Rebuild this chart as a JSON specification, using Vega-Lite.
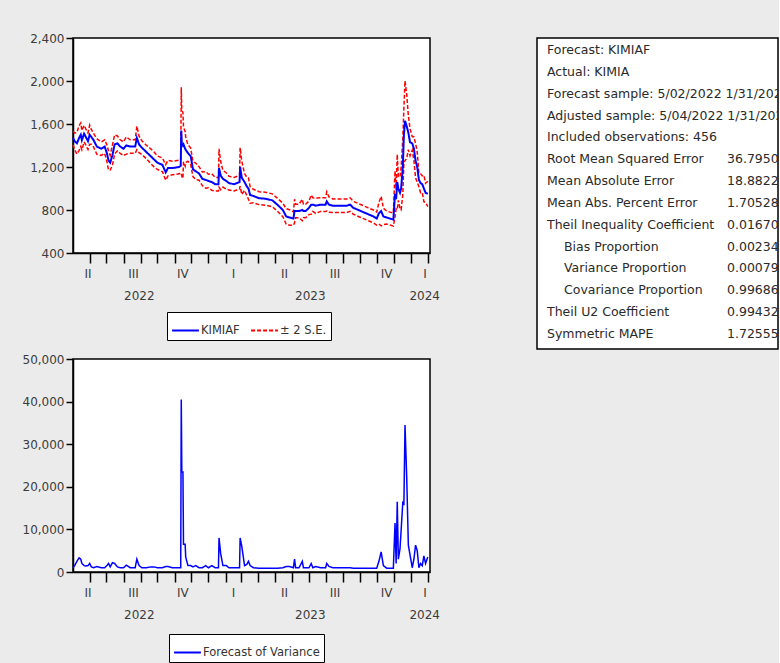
{
  "$schema": "https://vega.github.io/schema/vega-lite/v6.json",
  "background": "#ebebeb",
  "padding": {"left": 21, "top": 31, "right": 0, "bottom": 0},
  "config": {
    "font": "DejaVu Sans",
    "view": {"stroke": "#000", "strokeWidth": 1.5, "fill": "#fff"},
    "axis": {"labelFont": "DejaVu Sans", "labelFontSize": 12, "labelColor": "#3c3c3c", "domainColor": "#000", "domainWidth": 1.5, "tickColor": "#000", "tickWidth": 1.5, "grid": false, "title": null},
    "legend": {"labelFont": "DejaVu Sans", "labelFontSize": 11.5, "labelColor": "#333"}
  },
  "datasets": {
    "fc": [
      {"d":"2022-05-02","f":1470,"up":1533,"lo":1407,"v":1000},
      {"d":"2022-05-05","f":1440,"up":1517,"lo":1363,"v":1500},
      {"d":"2022-05-09","f":1420,"up":1520,"lo":1320,"v":2500},
      {"d":"2022-05-13","f":1470,"up":1585,"lo":1355,"v":3300},
      {"d":"2022-05-16","f":1500,"up":1610,"lo":1390,"v":3000},
      {"d":"2022-05-18","f":1450,"up":1539,"lo":1361,"v":2000},
      {"d":"2022-05-22","f":1510,"up":1587,"lo":1433,"v":1500},
      {"d":"2022-05-25","f":1480,"up":1555,"lo":1405,"v":1400},
      {"d":"2022-05-29","f":1440,"up":1517,"lo":1363,"v":1500},
      {"d":"2022-06-01","f":1500,"up":1589,"lo":1411,"v":2000},
      {"d":"2022-06-04","f":1480,"up":1549,"lo":1411,"v":1200},
      {"d":"2022-06-08","f":1450,"up":1513,"lo":1387,"v":1000},
      {"d":"2022-06-14","f":1390,"up":1462,"lo":1318,"v":1300},
      {"d":"2022-06-22","f":1370,"up":1433,"lo":1307,"v":1000},
      {"d":"2022-06-28","f":1390,"up":1453,"lo":1327,"v":1000},
      {"d":"2022-07-02","f":1330,"up":1407,"lo":1253,"v":1500},
      {"d":"2022-07-05","f":1260,"up":1349,"lo":1171,"v":2000},
      {"d":"2022-07-08","f":1240,"up":1309,"lo":1171,"v":1200},
      {"d":"2022-07-12","f":1310,"up":1404,"lo":1216,"v":2200},
      {"d":"2022-07-16","f":1410,"up":1499,"lo":1321,"v":2000},
      {"d":"2022-07-21","f":1420,"up":1489,"lo":1351,"v":1200},
      {"d":"2022-07-26","f":1390,"up":1453,"lo":1327,"v":1000},
      {"d":"2022-08-01","f":1370,"up":1433,"lo":1307,"v":1000},
      {"d":"2022-08-06","f":1400,"up":1480,"lo":1320,"v":1600},
      {"d":"2022-08-13","f":1390,"up":1453,"lo":1327,"v":1000},
      {"d":"2022-08-22","f":1390,"up":1453,"lo":1327,"v":1000},
      {"d":"2022-08-25","f":1470,"up":1580,"lo":1360,"v":3000},
      {"d":"2022-08-29","f":1410,"up":1487,"lo":1333,"v":1500},
      {"d":"2022-09-03","f":1380,"up":1443,"lo":1317,"v":1000},
      {"d":"2022-09-11","f":1340,"up":1403,"lo":1277,"v":1000},
      {"d":"2022-09-19","f":1300,"up":1369,"lo":1231,"v":1200},
      {"d":"2022-09-25","f":1270,"up":1339,"lo":1201,"v":1200},
      {"d":"2022-10-01","f":1240,"up":1303,"lo":1177,"v":1000},
      {"d":"2022-10-10","f":1220,"up":1283,"lo":1157,"v":1000},
      {"d":"2022-10-16","f":1150,"up":1222,"lo":1078,"v":1300},
      {"d":"2022-10-20","f":1190,"up":1262,"lo":1118,"v":1300},
      {"d":"2022-10-28","f":1190,"up":1253,"lo":1127,"v":1000},
      {"d":"2022-11-09","f":1200,"up":1263,"lo":1137,"v":1000},
      {"d":"2022-11-12","f":1210,"up":1273,"lo":1147,"v":1000},
      {"d":"2022-11-13","f":1540,"up":1942,"lo":1138,"v":40500},
      {"d":"2022-11-14","f":1420,"up":1727,"lo":1113,"v":23500},
      {"d":"2022-11-16","f":1400,"up":1707,"lo":1093,"v":23500},
      {"d":"2022-11-17","f":1410,"up":1571,"lo":1249,"v":6500},
      {"d":"2022-11-20","f":1370,"up":1531,"lo":1209,"v":6500},
      {"d":"2022-11-21","f":1360,"up":1478,"lo":1242,"v":3500},
      {"d":"2022-11-25","f":1330,"up":1407,"lo":1253,"v":1500},
      {"d":"2022-11-30","f":1300,"up":1377,"lo":1223,"v":1500},
      {"d":"2022-12-04","f":1180,"up":1249,"lo":1111,"v":1200},
      {"d":"2022-12-09","f":1160,"up":1237,"lo":1083,"v":1500},
      {"d":"2022-12-15","f":1140,"up":1203,"lo":1077,"v":1000},
      {"d":"2022-12-21","f":1090,"up":1153,"lo":1027,"v":1000},
      {"d":"2022-12-27","f":1080,"up":1157,"lo":1003,"v":1500},
      {"d":"2023-01-01","f":1070,"up":1133,"lo":1007,"v":1000},
      {"d":"2023-01-07","f":1060,"up":1137,"lo":983,"v":1500},
      {"d":"2023-01-13","f":1040,"up":1103,"lo":977,"v":1000},
      {"d":"2023-01-19","f":1040,"up":1103,"lo":977,"v":1000},
      {"d":"2023-01-20","f":1190,"up":1369,"lo":1011,"v":8000},
      {"d":"2023-01-23","f":1120,"up":1251,"lo":989,"v":4300},
      {"d":"2023-01-27","f":1090,"up":1167,"lo":1013,"v":1500},
      {"d":"2023-02-02","f":1070,"up":1147,"lo":993,"v":1500},
      {"d":"2023-02-07","f":1050,"up":1113,"lo":987,"v":1000},
      {"d":"2023-02-16","f":1040,"up":1103,"lo":977,"v":1000},
      {"d":"2023-02-26","f":1060,"up":1123,"lo":997,"v":1000},
      {"d":"2023-02-27","f":1200,"up":1379,"lo":1021,"v":8000},
      {"d":"2023-03-02","f":1100,"up":1255,"lo":945,"v":6000},
      {"d":"2023-03-07","f":1060,"up":1137,"lo":983,"v":1500},
      {"d":"2023-03-11","f":1020,"up":1105,"lo":935,"v":1800},
      {"d":"2023-03-14","f":1000,"up":1100,"lo":900,"v":2500},
      {"d":"2023-03-17","f":940,"up":1017,"lo":863,"v":1500},
      {"d":"2023-03-23","f":930,"up":993,"lo":867,"v":1000},
      {"d":"2023-04-02","f":910,"up":970,"lo":850,"v":900},
      {"d":"2023-04-14","f":905,"up":965,"lo":845,"v":900},
      {"d":"2023-04-26","f":890,"up":950,"lo":830,"v":900},
      {"d":"2023-05-05","f":850,"up":910,"lo":790,"v":900},
      {"d":"2023-05-15","f":800,"up":863,"lo":737,"v":1000},
      {"d":"2023-05-21","f":740,"up":812,"lo":668,"v":1300},
      {"d":"2023-05-27","f":730,"up":802,"lo":658,"v":1300},
      {"d":"2023-06-03","f":720,"up":783,"lo":657,"v":1000},
      {"d":"2023-06-05","f":790,"up":900,"lo":680,"v":3000},
      {"d":"2023-06-07","f":790,"up":853,"lo":727,"v":1000},
      {"d":"2023-06-13","f":790,"up":853,"lo":727,"v":1000},
      {"d":"2023-06-19","f":800,"up":900,"lo":700,"v":2500},
      {"d":"2023-06-21","f":790,"up":853,"lo":727,"v":1000},
      {"d":"2023-06-25","f":790,"up":853,"lo":727,"v":1000},
      {"d":"2023-07-01","f":820,"up":883,"lo":757,"v":1000},
      {"d":"2023-07-05","f":850,"up":939,"lo":761,"v":2000},
      {"d":"2023-07-08","f":850,"up":913,"lo":787,"v":1000},
      {"d":"2023-07-13","f":840,"up":912,"lo":768,"v":1300},
      {"d":"2023-07-22","f":850,"up":913,"lo":787,"v":1000},
      {"d":"2023-07-31","f":850,"up":913,"lo":787,"v":1000},
      {"d":"2023-08-02","f":880,"up":969,"lo":791,"v":2000},
      {"d":"2023-08-06","f":850,"up":922,"lo":778,"v":1300},
      {"d":"2023-08-13","f":840,"up":903,"lo":777,"v":1000},
      {"d":"2023-08-26","f":840,"up":903,"lo":777,"v":1000},
      {"d":"2023-09-07","f":840,"up":903,"lo":777,"v":1000},
      {"d":"2023-09-13","f":850,"up":913,"lo":787,"v":1000},
      {"d":"2023-09-19","f":820,"up":880,"lo":760,"v":900},
      {"d":"2023-09-28","f":800,"up":860,"lo":740,"v":900},
      {"d":"2023-10-07","f":780,"up":840,"lo":720,"v":900},
      {"d":"2023-10-16","f":760,"up":820,"lo":700,"v":900},
      {"d":"2023-10-25","f":740,"up":800,"lo":680,"v":900},
      {"d":"2023-10-31","f":720,"up":780,"lo":660,"v":900},
      {"d":"2023-11-04","f":770,"up":870,"lo":670,"v":2500},
      {"d":"2023-11-08","f":790,"up":927,"lo":653,"v":4700},
      {"d":"2023-11-12","f":740,"up":817,"lo":663,"v":1500},
      {"d":"2023-11-18","f":730,"up":790,"lo":670,"v":900},
      {"d":"2023-11-24","f":720,"up":780,"lo":660,"v":900},
      {"d":"2023-11-30","f":710,"up":770,"lo":650,"v":900},
      {"d":"2023-12-03","f":950,"up":1164,"lo":736,"v":11500},
      {"d":"2023-12-05","f":900,"up":989,"lo":811,"v":2000},
      {"d":"2023-12-07","f":1060,"up":1317,"lo":803,"v":16500},
      {"d":"2023-12-09","f":1000,"up":1110,"lo":890,"v":3000},
      {"d":"2023-12-12","f":960,"up":1108,"lo":812,"v":5500},
      {"d":"2023-12-14","f":1000,"up":1198,"lo":802,"v":9800},
      {"d":"2023-12-17","f":1200,"up":1455,"lo":945,"v":16300},
      {"d":"2023-12-19","f":1500,"up":1753,"lo":1247,"v":16000},
      {"d":"2023-12-21","f":1630,"up":2001,"lo":1259,"v":34500},
      {"d":"2023-12-24","f":1580,"up":1880,"lo":1280,"v":22500},
      {"d":"2023-12-27","f":1520,"up":1679,"lo":1361,"v":6300},
      {"d":"2023-12-30","f":1430,"up":1556,"lo":1304,"v":4000},
      {"d":"2024-01-03","f":1420,"up":1483,"lo":1357,"v":1000},
      {"d":"2024-01-06","f":1370,"up":1480,"lo":1260,"v":3000},
      {"d":"2024-01-09","f":1260,"up":1419,"lo":1101,"v":6300},
      {"d":"2024-01-12","f":1200,"up":1341,"lo":1059,"v":5000},
      {"d":"2024-01-15","f":1080,"up":1143,"lo":1017,"v":1000},
      {"d":"2024-01-18","f":1050,"up":1139,"lo":961,"v":2000},
      {"d":"2024-01-21","f":1040,"up":1117,"lo":963,"v":1500},
      {"d":"2024-01-24","f":1000,"up":1123,"lo":877,"v":3800},
      {"d":"2024-01-27","f":960,"up":1049,"lo":871,"v":2000},
      {"d":"2024-01-31","f":950,"up":1068,"lo":832,"v":3500}
    ],
    "stats": [
      {"i":0,"label":"Forecast: KIMIAF","sub":"","value":""},
      {"i":1,"label":"Actual: KIMIA","sub":"","value":""},
      {"i":2,"label":"Forecast sample: 5/02/2022 1/31/2024","sub":"","value":""},
      {"i":3,"label":"Adjusted sample: 5/04/2022 1/31/2024","sub":"","value":""},
      {"i":4,"label":"Included observations: 456","sub":"","value":""},
      {"i":5,"label":"Root Mean Squared Error","sub":"","value":"36.79503"},
      {"i":6,"label":"Mean Absolute Error","sub":"","value":"18.88221"},
      {"i":7,"label":"Mean Abs. Percent Error","sub":"","value":"1.705286"},
      {"i":8,"label":"Theil Inequality Coefficient","sub":"","value":"0.016703"},
      {"i":9,"label":"","sub":"Bias Proportion","value":"0.002341"},
      {"i":10,"label":"","sub":"Variance Proportion","value":"0.000795"},
      {"i":11,"label":"","sub":"Covariance Proportion","value":"0.996864"},
      {"i":12,"label":"Theil U2 Coefficient","sub":"","value":"0.994321"},
      {"i":13,"label":"Symmetric MAPE","sub":"","value":"1.725558"}
    ]
  },
  "spacing": 95,
  "hconcat": [
    {
      "spacing": 10,
      "resolve": {"scale": {"color": "independent", "strokeDash": "independent"}, "legend": {"color": "independent", "strokeDash": "independent"}},
      "vconcat": [
        {
          "width": 357,
          "height": 215,
          "data": {"name": "fc"},
          "encoding": {
            "x": {"field": "d", "type": "temporal",
              "scale": {"type": "utc", "domain": [{"year":2022,"month":5,"date":2,"utc":true},{"year":2024,"month":2,"date":4,"utc":true}]},
              "axis": {
                "values": [
                  {"year":2022,"month":6,"date":1,"utc":true},{"year":2022,"month":7,"date":1,"utc":true},{"year":2022,"month":8,"date":1,"utc":true},{"year":2022,"month":9,"date":1,"utc":true},{"year":2022,"month":10,"date":1,"utc":true},{"year":2022,"month":11,"date":1,"utc":true},{"year":2022,"month":12,"date":1,"utc":true},
                  {"year":2023,"month":1,"date":1,"utc":true},{"year":2023,"month":2,"date":1,"utc":true},{"year":2023,"month":3,"date":1,"utc":true},{"year":2023,"month":4,"date":1,"utc":true},{"year":2023,"month":5,"date":1,"utc":true},{"year":2023,"month":6,"date":1,"utc":true},{"year":2023,"month":7,"date":1,"utc":true},{"year":2023,"month":8,"date":1,"utc":true},{"year":2023,"month":9,"date":1,"utc":true},{"year":2023,"month":10,"date":1,"utc":true},{"year":2023,"month":11,"date":1,"utc":true},{"year":2023,"month":12,"date":1,"utc":true},
                  {"year":2024,"month":1,"date":1,"utc":true},{"year":2024,"month":2,"date":1,"utc":true},
                  {"year":2022,"month":5,"date":28,"utc":true},{"year":2022,"month":8,"date":18,"utc":true},{"year":2022,"month":11,"date":15,"utc":true},{"year":2023,"month":2,"date":14,"utc":true},{"year":2023,"month":5,"date":17,"utc":true},{"year":2023,"month":8,"date":16,"utc":true},{"year":2023,"month":11,"date":17,"utc":true},{"year":2024,"month":1,"date":25,"utc":true},
                  {"year":2022,"month":8,"date":28,"hours":12,"utc":true},{"year":2023,"month":7,"date":2,"hours":12,"utc":true},{"year":2024,"month":1,"date":24,"hours":12,"utc":true}
                ],
                "labelExpr": "utchours(datum.value) == 12 ? ['', '' + utcyear(datum.value)] : (utcdate(datum.value) == 1 ? '' : ['I','I','I','II','II','II','III','III','III','IV','IV','IV'][utcmonth(datum.value)])",
                "tickSize": 10, "labelPadding": 5, "labelOverlap": false, "labelFlush": false, "labelLineHeight": 22, "labelBaseline": "top",
                "tickOpacity": {"condition": {"test": "utcdate(datum.value) == 1 && utchours(datum.value) == 0", "value": 1}, "value": 0}
              }
            },
            "y": {"field": "val", "type": "quantitative",
              "scale": {"domain": [400, 2400], "nice": false, "zero": false},
              "axis": {"values": [400, 800, 1200, 1600, 2000, 2400], "format": ",.0f", "tickSize": 7, "labelPadding": 2}
            },
            "color": {"field": "s", "type": "nominal",
              "scale": {"domain": ["f", "up", "lo"], "range": ["#0000ff", "#ff0000", "#ff0000"]},
              "legend": {"title": null, "values": ["f", "up"], "labelExpr": "datum.value == 'f' ? 'KIMIAF' : '± 2 S.E.'", "orient": "none", "legendX": 94, "legendY": 274, "direction": "horizontal", "symbolType": "stroke", "symbolSize": 720, "symbolStrokeWidth": 2, "padding": 4, "strokeColor": "#000", "fillColor": "#fff", "columnPadding": 7, "labelOffset": 1}
            },
            "strokeDash": {"field": "s", "type": "nominal",
              "scale": {"domain": ["f", "up", "lo"], "range": [[1, 0], [4, 2], [4, 2]]},
              "legend": {"title": null, "values": ["f", "up"], "labelExpr": "datum.value == 'f' ? 'KIMIAF' : '± 2 S.E.'", "orient": "none", "legendX": 94, "legendY": 274, "direction": "horizontal", "symbolType": "stroke", "symbolSize": 720, "symbolStrokeWidth": 2, "padding": 4, "strokeColor": "#000", "fillColor": "#fff", "columnPadding": 7, "labelOffset": 1}
            }
          },
          "layer": [
            {"transform": [{"fold": ["up", "lo"], "as": ["s", "val"]}], "mark": {"type": "line", "strokeWidth": 1.5}},
            {"transform": [{"fold": ["f"], "as": ["s", "val"]}], "mark": {"type": "line", "strokeWidth": 2}}
          ]
        },
        {
          "width": 357,
          "height": 213,
          "data": {"name": "fc"},
          "mark": {"type": "line", "strokeWidth": 1.5},
          "encoding": {
            "x": {"field": "d", "type": "temporal",
              "scale": {"type": "utc", "domain": [{"year":2022,"month":5,"date":2,"utc":true},{"year":2024,"month":2,"date":4,"utc":true}]},
              "axis": {
                "values": [
                  {"year":2022,"month":6,"date":1,"utc":true},{"year":2022,"month":7,"date":1,"utc":true},{"year":2022,"month":8,"date":1,"utc":true},{"year":2022,"month":9,"date":1,"utc":true},{"year":2022,"month":10,"date":1,"utc":true},{"year":2022,"month":11,"date":1,"utc":true},{"year":2022,"month":12,"date":1,"utc":true},
                  {"year":2023,"month":1,"date":1,"utc":true},{"year":2023,"month":2,"date":1,"utc":true},{"year":2023,"month":3,"date":1,"utc":true},{"year":2023,"month":4,"date":1,"utc":true},{"year":2023,"month":5,"date":1,"utc":true},{"year":2023,"month":6,"date":1,"utc":true},{"year":2023,"month":7,"date":1,"utc":true},{"year":2023,"month":8,"date":1,"utc":true},{"year":2023,"month":9,"date":1,"utc":true},{"year":2023,"month":10,"date":1,"utc":true},{"year":2023,"month":11,"date":1,"utc":true},{"year":2023,"month":12,"date":1,"utc":true},
                  {"year":2024,"month":1,"date":1,"utc":true},{"year":2024,"month":2,"date":1,"utc":true},
                  {"year":2022,"month":5,"date":28,"utc":true},{"year":2022,"month":8,"date":18,"utc":true},{"year":2022,"month":11,"date":15,"utc":true},{"year":2023,"month":2,"date":14,"utc":true},{"year":2023,"month":5,"date":17,"utc":true},{"year":2023,"month":8,"date":16,"utc":true},{"year":2023,"month":11,"date":17,"utc":true},{"year":2024,"month":1,"date":25,"utc":true},
                  {"year":2022,"month":8,"date":28,"hours":12,"utc":true},{"year":2023,"month":7,"date":2,"hours":12,"utc":true},{"year":2024,"month":1,"date":24,"hours":12,"utc":true}
                ],
                "labelExpr": "utchours(datum.value) == 12 ? ['', '' + utcyear(datum.value)] : (utcdate(datum.value) == 1 ? '' : ['I','I','I','II','II','II','III','III','III','IV','IV','IV'][utcmonth(datum.value)])",
                "tickSize": 10, "labelPadding": 5, "labelOverlap": false, "labelFlush": false, "labelLineHeight": 22, "labelBaseline": "top",
                "tickOpacity": {"condition": {"test": "utcdate(datum.value) == 1 && utchours(datum.value) == 0", "value": 1}, "value": 0}
              }
            },
            "y": {"field": "v", "type": "quantitative",
              "scale": {"domain": [0, 50000], "nice": false},
              "axis": {"values": [0, 10000, 20000, 30000, 40000, 50000], "format": ",.0f", "tickSize": 7, "labelPadding": 2}
            },
            "color": {"datum": "Forecast of Variance", "type": "nominal",
              "scale": {"range": ["#0000ff"]},
              "legend": {"title": null, "orient": "none", "legendX": 96, "legendY": 275, "symbolType": "stroke", "symbolSize": 720, "symbolStrokeWidth": 2, "padding": 4, "strokeColor": "#000", "fillColor": "#fff", "labelOffset": 1}
            }
          }
        }
      ]
    },
    {
      "width": 241,
      "height": 311,
      "data": {"name": "stats"},
      "encoding": {
        "y": {"field": "i", "type": "ordinal", "scale": {"type": "point", "range": [12, 296], "padding": 0}, "axis": null}
      },
      "layer": [
        {
          "transform": [{"fold": ["label", "value"], "as": ["col", "txt"]}],
          "mark": {"type": "text", "align": "left", "baseline": "middle", "fontSize": 12.5, "font": "DejaVu Sans", "color": "#2a2a2a", "clip": true},
          "encoding": {
            "x": {"field": "col", "type": "nominal", "scale": {"type": "point", "domain": ["label", "value"], "range": [10, 190], "padding": 0}, "axis": null},
            "text": {"field": "txt"}
          }
        },
        {
          "mark": {"type": "text", "align": "left", "baseline": "middle", "fontSize": 12.5, "font": "DejaVu Sans", "color": "#2a2a2a", "clip": true, "dx": 17},
          "encoding": {
            "x": {"datum": "label", "type": "nominal"},
            "text": {"field": "sub"}
          }
        }
      ]
    }
  ]
}
